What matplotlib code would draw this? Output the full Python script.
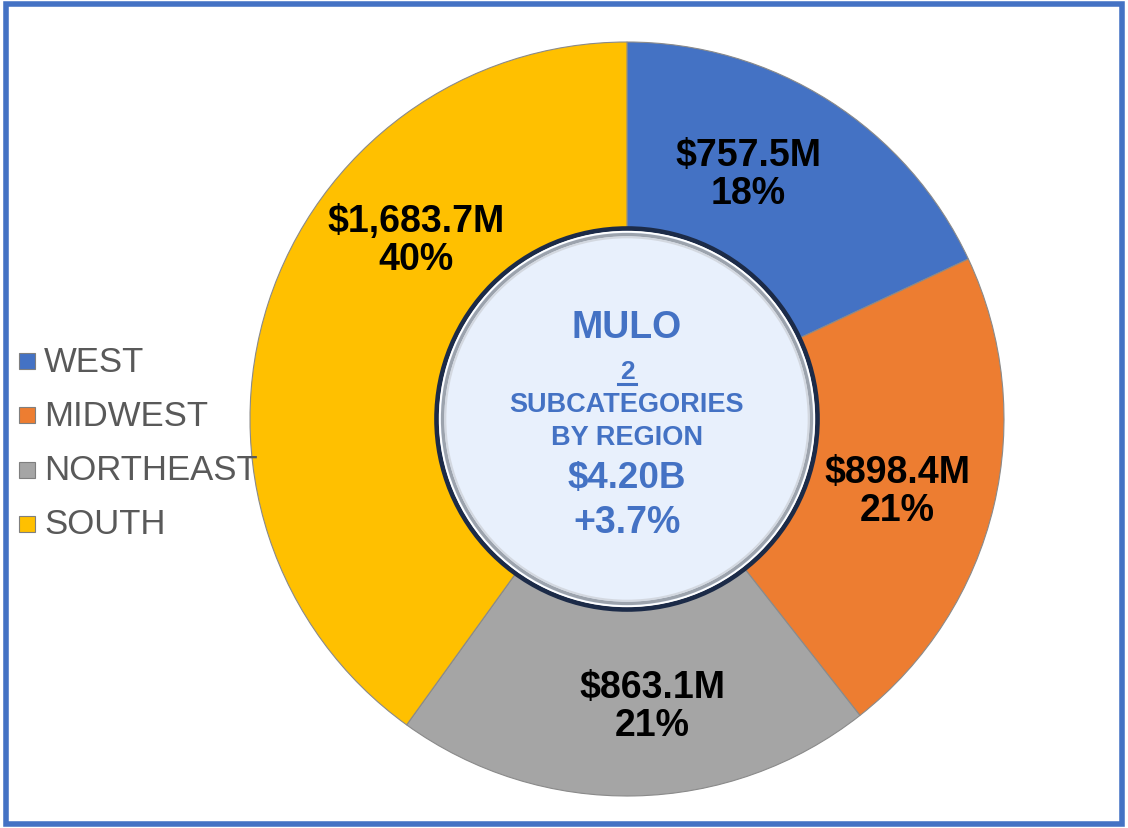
import matplotlib.pyplot as plt
from matplotlib.patches import Circle, Rectangle
import numpy as np

# data
regions = ['WEST', 'MIDWEST', 'NORTHEAST', 'SOUTH']
sales = [757.5, 898.4, 863.1, 1683.7]
shares = [18, 21, 21, 40]
colors = ['#4472C4', '#ED7D31', '#A5A5A5', '#FFC000']
center_lines = ['MULO', '2', 'SUBCATEGORIES', 'BY REGION', '$4.20B', '+3.7%']

# where Excel put the data labels (angle in degrees, radius as fraction)
label_angles = [63.7, -14.9, -85.0, 139.7]
label_radius = [0.725, 0.741, 0.764, 0.734]

plt.rcParams['font.family'] = ['Liberation Sans', 'DejaVu Sans']

W, H = 1128, 829
fig = plt.figure(figsize=(W / 100, H / 100), dpi=100)

# blue frame round the whole picture
fig.patches.append(Rectangle((6 / W, 4 / H), 1 - 12 / W, 1 - 9 / H,
                             transform=fig.transFigure, fill=False,
                             edgecolor='#4472C4', linewidth=4))

cx, cy, R = 627, 420, 377
ax = fig.add_axes([(cx - R) / W, (H - cy - R) / H, 2 * R / W, 2 * R / H])

wedges, _ = ax.pie(sales, colors=colors, startangle=90, counterclock=False,
                   radius=1.0, wedgeprops=dict(width=0.52, edgecolor='#8a8a8a', linewidth=0.8))
ax.set_xlim(-1, 1)
ax.set_ylim(-1, 1)
ax.set_aspect('equal')
ax.axis('off')

for val, pct, ang, r in zip(sales, shares, label_angles, label_radius):
    a = np.deg2rad(ang)
    ax.text(r * np.cos(a), r * np.sin(a), f'${val:,.1f}M\n{pct}%',
            ha='center', va='center', fontsize=27, fontweight='bold',
            color='black', linespacing=1.08)

# centre disc with a bevelled rim
ax.add_patch(Circle((0, 0), 0.505, facecolor='#E8F0FC', edgecolor='#1C2B48', linewidth=3.5, zorder=3))
ax.add_patch(Circle((0, 0), 0.497, facecolor='none', edgecolor='white', linewidth=1.2, zorder=4))
ax.add_patch(Circle((0, 0), 0.489, facecolor='none', edgecolor='#9CA3AD', linewidth=2.5, zorder=4))
ax.add_patch(Circle((0, 0), 0.482, facecolor='none', edgecolor='#D3D8E0', linewidth=1.5, zorder=4))

blue = '#4472C4'
ys = [0.244, 0.127, 0.040, -0.048, -0.154, -0.273]
sizes = [27, 19, 19.5, 19.5, 26.5, 27]
for txt, y, s in zip(center_lines, ys, sizes):
    ax.text(0, y, txt, ha='center', va='center', fontsize=s, fontweight='bold',
            color=blue, zorder=5)
# underline under the "2"
ax.plot([-0.025, 0.025], [0.093, 0.093], color=blue, linewidth=2.2, zorder=5)

# legend on the left
for i, (name, col) in enumerate(zip(regions, colors)):
    yy = 1 - (362 + 54.3 * i) / H
    fig.patches.append(Rectangle((19 / W, yy - 8 / H), 16 / W, 16 / H,
                                 transform=fig.transFigure, facecolor=col,
                                 edgecolor='#7f7f7f', linewidth=0.8))
    fig.text(44 / W, yy, name, ha='left', va='center', fontsize=25,
             color='#595959')

fig.savefig('out.png', dpi=100)
